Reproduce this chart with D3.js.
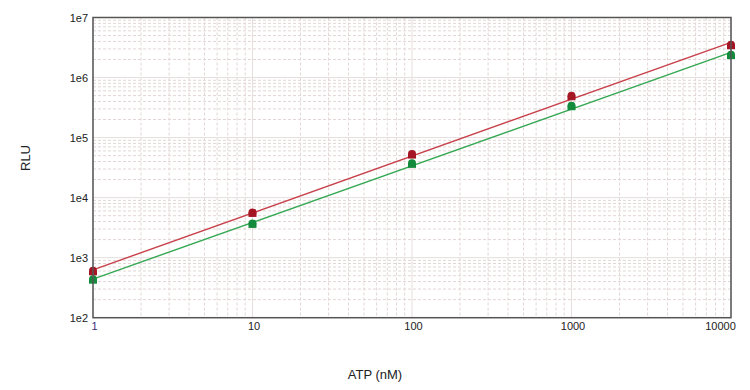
<!DOCTYPE html>
<html>
<head>
<meta charset="utf-8">
<script src="https://cdn.jsdelivr.net/npm/d3@7"></script>
<style>
  body { margin: 0; background: #fff; }
  text { font-family: "Liberation Sans", Arial, sans-serif; }
</style>
</head>
<body>
<div id="chart"></div>
<script>
// ATP standard curve
const atp = [1, 10, 100, 1000, 10000]
const rluRed = [592, 5560, 52100, 488000, 3450000]
const rluGreen = [430, 3650, 36500, 333000, 2360000]
const xTicks = [1, 10, 100, 1000, 10000]
const yTicks = [1e2, 1e3, 1e4, 1e5, 1e6, 1e7]
const yTickLabels = ["1e2", "1e3", "1e4", "1e5", "1e6", "1e7"]

const width = 750, height = 390
const margin = { top: 17.5, right: 19, bottom: 72.3, left: 93 }

const svg = d3.select("#chart")
    .append("svg")
    .attr("width", width)
    .attr("height", height)

const innerW = width - margin.left - margin.right
const innerH = height - margin.top - margin.bottom

const g = svg.append("g").attr("transform", "translate(" + margin.left + "," + margin.top + ")")

const x = d3.scaleLog().domain([1, 10000]).range([0, innerW])
const y = d3.scaleLog().domain([1e2, 1e7]).range([innerH, 0])

// grid: minor dashed, major lighter solid
const xMinor = x.ticks().filter(d => !xTicks.includes(d))
const yMinor = y.ticks().filter(d => !yTicks.includes(d))

g.append("g").selectAll("line")
    .data(xMinor)
    .join("line")
    .attr("x1", d => x(d)).attr("x2", d => x(d))
    .attr("y1", 0).attr("y2", innerH)
    .attr("stroke", "#e2d6d6")
    .attr("stroke-dasharray", "3,2")

g.append("g").selectAll("line")
    .data(yMinor)
    .join("line")
    .attr("y1", d => y(d)).attr("y2", d => y(d))
    .attr("x1", 0).attr("x2", innerW)
    .attr("stroke", "#e2d6d6")
    .attr("stroke-dasharray", "3,2")

g.append("g").selectAll("line")
    .data(xTicks)
    .join("line")
    .attr("x1", d => x(d)).attr("x2", d => x(d))
    .attr("y1", 0).attr("y2", innerH)
    .attr("stroke", "#e6dede")

g.append("g").selectAll("line")
    .data(yTicks)
    .join("line")
    .attr("y1", d => y(d)).attr("y2", d => y(d))
    .attr("x1", 0).attr("x2", innerW)
    .attr("stroke", "#e6dede")

// fitted lines (least squares in log-log space)
function fit(xs, ys) {
    const lx = xs.map(Math.log10), ly = ys.map(Math.log10)
    const mx = d3.mean(lx), my = d3.mean(ly)
    const b = d3.sum(lx, (v, i) => (v - mx) * (ly[i] - my)) / d3.sum(lx, v => (v - mx) * (v - mx))
    const a = my - b * mx
    return d => Math.pow(10, a + b * Math.log10(d))
}

const series = [
    { values: rluRed, line: "#c8404a", marker: "#a51624" },
    { values: rluGreen, line: "#35a853", marker: "#138a3c" }
]

series.forEach(s => {
    const f = fit(atp, s.values)
    g.append("line")
        .attr("x1", x(1)).attr("y1", y(f(1)))
        .attr("x2", x(10000)).attr("y2", y(f(10000)))
        .attr("stroke", s.line)
        .attr("stroke-width", 1.4)
})

series.forEach(s => {
    const pts = g.append("g").selectAll("g")
        .data(atp.map((d, i) => [d, s.values[i]]))
        .join("g")
        .attr("transform", d => "translate(" + x(d[0]) + "," + y(d[1]) + ")")
        .attr("fill", s.marker)
    pts.append("circle").attr("cy", -0.5).attr("r", 4)
    pts.append("rect").attr("x", -4).attr("y", -0.5).attr("width", 8).attr("height", 4.5)
})

// frame
g.append("rect")
    .attr("width", innerW).attr("height", innerH)
    .attr("fill", "none")
    .attr("stroke", "#555")
    .attr("stroke-width", 1.5)

// axes
const xAxis = g.append("g")
    .attr("transform", "translate(0," + innerH + ")")
    .call(d3.axisBottom(x).tickValues(xTicks).tickFormat(d3.format("d")).tickSize(0).tickPadding(5))
xAxis.select(".domain").remove()
xAxis.selectAll("text")
    .attr("font-size", 11)
    .attr("font-family", "Liberation Sans, Arial, sans-serif")
    .attr("fill", "#222")
    .attr("dx", d => d === 10000 ? -11 : 1)
xAxis.selectAll("text").filter(d => d === 1).attr("fill", "#3a2d7a")

const yAxis = g.append("g")
    .call(d3.axisLeft(y).tickValues(yTicks).tickFormat((d, i) => yTickLabels[i]).tickSize(0).tickPadding(5))
yAxis.select(".domain").remove()
yAxis.selectAll("text")
    .attr("font-size", 11)
    .attr("font-family", "Liberation Sans, Arial, sans-serif")
    .attr("fill", "#222")

svg.append("text")
    .attr("x", margin.left + x(100) - 37)
    .attr("y", 379)
    .attr("text-anchor", "middle")
    .attr("font-size", 13)
    .attr("fill", "#222")
    .text("ATP (nM)")

svg.append("text")
    .attr("transform", "translate(30,158)rotate(-90)")
    .attr("text-anchor", "middle")
    .attr("font-size", 13)
    .attr("fill", "#222")
    .text("RLU")
</script>
</body>
</html>
